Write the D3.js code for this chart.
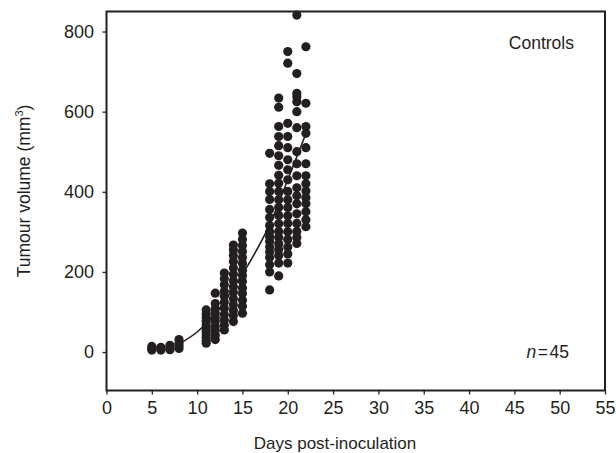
<!DOCTYPE html>
<html>
<head>
<meta charset="utf-8">
<script src="https://cdn.jsdelivr.net/npm/d3@7"></script>
<style>
  body { margin: 0; background: #fff; }
  svg { display: block; font-family: "Liberation Sans", Arial, sans-serif; }
</style>
</head>
<body>
<svg id="chart" width="616" height="453"></svg>
<script>
const days = [5, 6, 7, 8, 11, 12, 13, 14, 15, 18, 19, 20, 21, 22];
const volumes = [
    [5, 9, 14],
    [5, 8, 12],
    [6, 11, 17],
    [9, 15, 22, 31],
    [22, 29, 37, 45, 52, 60, 68, 77, 86, 95, 105],
    [31, 42, 54, 64, 76, 86, 97, 108, 121, 147],
    [55, 67, 80, 94, 109, 124, 139, 152, 168, 183, 197],
    [76, 91, 104, 118, 133, 149, 163, 178, 194, 210, 226, 241, 255, 267],
    [97, 114, 129, 146, 160, 176, 191, 204, 221, 236, 251, 266, 281, 297],
    [155, 200, 218, 236, 250, 262, 276, 288, 300, 316, 336, 356, 381, 401, 420, 496],
    [190, 222, 241, 256, 270, 286, 301, 320, 341, 361, 380, 401, 421, 441, 466, 490, 515, 538, 563, 611, 634],
    [222, 245, 262, 281, 300, 321, 340, 361, 380, 401, 430, 455, 480, 510, 538, 571, 721, 750],
    [271, 286, 301, 321, 345, 370, 390, 410, 440, 470, 500, 560, 600, 625, 637, 646, 695, 841],
    [313, 330, 350, 370, 385, 402, 420, 440, 470, 510, 546, 563, 621, 762]
];

// fitted growth curve
const fitDays = [8, 10, 12, 14, 16, 18, 20, 22];
const fitVolumes = [20, 50, 95, 160, 232, 318, 430, 545];

const xTicks = [0, 5, 10, 15, 20, 25, 30, 35, 40, 45, 50, 55];
const yTicks = [0, 200, 400, 600, 800];

const ink = "#231f20";
const svg = d3.select("#chart");

const plotLeft = 106.5, plotRight = 605, plotTop = 11.5, plotBottom = 390.5;

const x = d3.scaleLinear().domain([0, 55]).range([plotLeft, plotRight]);
const y = d3.scaleLinear().domain([-96, 850]).range([plotBottom, plotTop]);

// flatten into points
const points = [];
days.forEach((d, i) => {
    volumes[i].forEach(v => points.push({day: d, vol: v}));
});

// axes
const yAxis = svg.append("g")
    .attr("transform", "translate(" + plotLeft + ",0)")
    .call(d3.axisLeft(y).tickValues(yTicks).tickSize(4).tickPadding(8.5));
const xAxis = svg.append("g")
    .attr("transform", "translate(0," + plotBottom + ")")
    .call(d3.axisBottom(x).tickValues(xTicks).tickSize(4).tickPadding(7));

[yAxis, xAxis].forEach(g => {
    g.select(".domain").remove();
    g.selectAll("line").attr("stroke", ink).attr("stroke-width", 1.3);
    g.selectAll("text")
        .attr("fill", ink)
        .style("font-size", "18px")
        .style("font-family", "'Liberation Sans', Arial, sans-serif");
});

// frame
svg.append("rect")
    .attr("x", plotLeft).attr("y", plotTop)
    .attr("width", plotRight - plotLeft).attr("height", plotBottom - plotTop)
    .attr("fill", "none")
    .attr("stroke", ink)
    .attr("stroke-width", 2);

// fitted line
const line = d3.line()
    .x((d, i) => x(fitDays[i]))
    .y(d => y(d))
    .curve(d3.curveMonotoneX);

svg.append("path")
    .datum(fitVolumes)
    .attr("d", line)
    .attr("fill", "none")
    .attr("stroke", ink)
    .attr("stroke-width", 1.6);

// dots
svg.append("g")
    .selectAll("circle")
    .data(points)
    .enter().append("circle")
    .attr("cx", d => x(d.day))
    .attr("cy", d => y(d.vol))
    .attr("r", 4.6)
    .attr("fill", ink);

// labels
svg.append("text")
    .attr("x", 574).attr("y", 48.5)
    .attr("text-anchor", "end")
    .attr("fill", ink)
    .style("font-size", "17.5px")
    .text("Controls");

const nLabel = svg.append("text")
    .attr("x", 569).attr("y", 358)
    .attr("text-anchor", "end")
    .attr("fill", ink)
    .style("font-size", "17.5px");
nLabel.append("tspan").style("font-style", "italic").text("n");
nLabel.append("tspan").attr("dx", 1.5).text("=");
nLabel.append("tspan").attr("dx", 1.5).text("45");

svg.append("text")
    .attr("x", 335).attr("y", 449)
    .attr("text-anchor", "middle")
    .attr("fill", ink)
    .style("font-size", "17px")
    .text("Days post-inoculation");

const yTitle = svg.append("text")
    .attr("transform", "translate(30,191) rotate(-90)")
    .attr("text-anchor", "middle")
    .attr("fill", ink)
    .style("font-size", "17.5px");
yTitle.append("tspan").text("Tumour volume (mm");
yTitle.append("tspan").attr("dy", -7).style("font-size", "11px").text("3");
yTitle.append("tspan").attr("dy", 7).text(")");
</script>
</body>
</html>
